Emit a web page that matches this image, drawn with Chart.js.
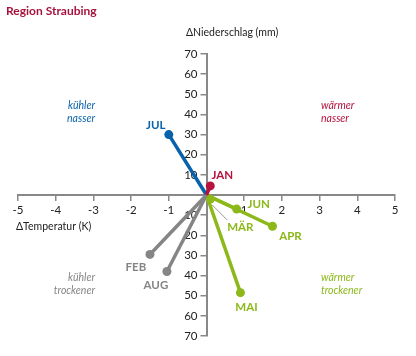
<!DOCTYPE html>
<html><head><meta charset="utf-8">
<script src="https://cdn.jsdelivr.net/npm/chart.js@4/dist/chart.umd.min.js"></script>
<style>html,body{margin:0;padding:0;background:#fff}#w{width:416px;height:356px;position:relative}</style>
</head><body><div id="w"><canvas id="c" width="416" height="356"></canvas></div>
<script>
const months = ['JAN','FEB','MÄR','APR','MAI','JUN','JUL','AUG'];
const dTemp = [0.1, -1.5, 0.1, 1.75, 0.9, 0.8, -1.0, -1.05];
const dPrecip = [4.5, -29.5, -2, -15.5, -48.5, -7, 30, -38];
const xTicks = [-5,-4,-3,-2,-1,0,1,2,3,4,5];
const yTicks = [-70,-60,-50,-40,-30,-20,-10,0,10,20,30,40,50,60,70];
const title = 'Region Straubing';
const xTitle = 'ΔTemperatur (K)';
const yTitle = 'ΔNiederschlag (mm)';
const quadrants = [['kühler','nasser'],['wärmer','nasser'],['kühler','trockener'],['wärmer','trockener']];

const BLUE='#0862ab', RED='#b5123e', GREEN='#8cb81a', GRAY='#858585';
const monthColor = {JAN:RED, FEB:GRAY, 'MÄR':GREEN, APR:GREEN, MAI:GREEN, JUN:GREEN, JUL:BLUE, AUG:GRAY};
// label offsets (px) relative to point
const labelOff = {JAN:[12,-11], FEB:[-14,13], 'MÄR':[30,28], APR:[18,10], MAI:[6,15], JUN:[22,-5], JUL:[-13,-9], AUG:[-11,14]};
const FONT = 'Lato,"DejaVu Sans",sans-serif';

const datasets = months.map((m,i)=>({
  label:m,
  data:[{x:0,y:0},{x:dTemp[i],y:dPrecip[i]}],
  showLine:true,
  borderColor:monthColor[m],
  backgroundColor:monthColor[m],
  borderWidth:3.5,
  pointRadius:[0,4.5],
  pointHoverRadius:[0,4.5],
  pointBorderWidth:0
}));

const axisPlugin = {
  id:'centerY',
  afterLayout(chart){
    const y = chart.scales.y;
    const x0 = chart.scales.x.getPixelForValue(0);
    y.left = x0 - 40; y.right = x0;
  }
};

const textPlugin = {
  id:'texts',
  afterDraw(chart){
    const ctx = chart.ctx;
    const xs = chart.scales.x, ys = chart.scales.y;
    ctx.save();
    ctx.textBaseline='middle';
    ctx.font = 'bold 12px '+FONT;
    ctx.fillStyle = '#a8123e';
    ctx.textAlign='left';
    ctx.fillText(title, 6, 11);
    ctx.font = '10.5px '+FONT;
    ctx.fillStyle = '#222';
    ctx.fillText(yTitle, 186, 33);
    ctx.fillText(xTitle, 16, 227);
    ctx.font = 'italic 10.5px '+FONT;
    const qpos = [[95,106,'right',BLUE],[321,106,'left',RED],[95,278,'right',GRAY],[321,278,'left',GREEN]];
    quadrants.forEach((q,i)=>{
      const [x,y,al,col]=qpos[i];
      ctx.textAlign=al; ctx.fillStyle=col;
      ctx.fillText(q[0], x, y);
      ctx.fillText(q[1], x, y+13);
    });
    ctx.font = 'bold 11.5px '+FONT;
    ctx.textAlign='center';
    months.forEach((m,i)=>{
      const px = xs.getPixelForValue(dTemp[i]), py = ys.getPixelForValue(dPrecip[i]);
      const o = labelOff[m];
      ctx.fillStyle = monthColor[m];
      ctx.fillText(m, px+o[0], py+o[1]);
      if (m==='MÄR'){
        ctx.strokeStyle='#999'; ctx.lineWidth=1;
        ctx.beginPath(); ctx.moveTo(px+2,py+6); ctx.lineTo(px+17,py+21); ctx.stroke();
      }
    });
    ctx.restore();
  }
};

new Chart(document.getElementById('c'), {
  type:'scatter',
  data:{datasets},
  options:{
    responsive:false,
    animation:false,
    events:[],
    layout:{padding:{left:18,right:21,top:54,bottom:20}},
    plugins:{legend:{display:false},tooltip:{enabled:false}},
    scales:{
      x:{
        type:'linear', min:-5, max:5,
        position:{y:0},
        afterBuildTicks(s){ s.ticks = xTicks.map(v=>({value:v})); },
        ticks:{color:'#222', font:{size:11.5,family:FONT}, padding:3,
          callback:(v)=> v===0?'':String(v)},
        grid:{drawOnChartArea:false, drawTicks:true, tickLength:5, color:'#888', lineWidth:1.5},
        border:{color:'#888', width:2}
      },
      y:{
        type:'linear', min:-70, max:70,
        position:'left',
        afterFit(s){ s.width = 0; },
        afterBuildTicks(s){ s.ticks = yTicks.map(v=>({value:v})); },
        ticks:{color:'#222', font:{size:11.5,family:FONT}, padding:3,
          callback:(v)=> v===0?'':String(Math.abs(v))},
        grid:{drawOnChartArea:false, drawTicks:true, tickLength:6, color:'#888', lineWidth:1.5},
        border:{color:'#888', width:2}
      }
    }
  },
  plugins:[axisPlugin, textPlugin]
});
</script></body></html>
